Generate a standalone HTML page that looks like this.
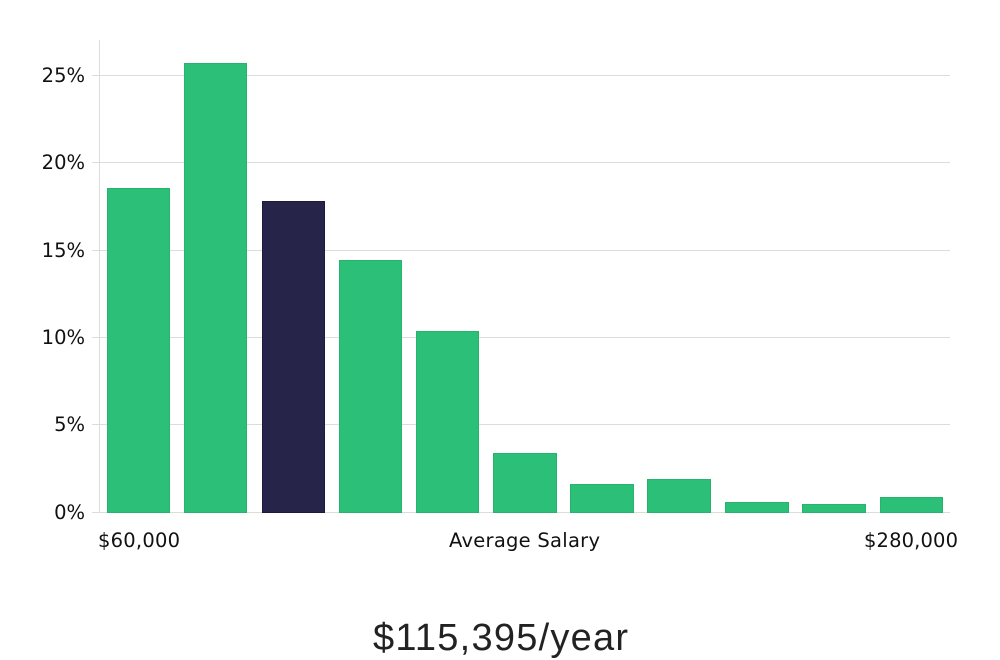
<!DOCTYPE html>
<html><head><meta charset="utf-8"><style>
html,body{margin:0;padding:0;background:#fff;width:1000px;height:660px;overflow:hidden}
</style></head><body>
<svg width="1000" height="660" xmlns="http://www.w3.org/2000/svg" font-family="DejaVu Sans, sans-serif">
<g stroke="#dcdcdc" stroke-width="1">
<line x1="92" y1="75.5" x2="950" y2="75.5"/>
<line x1="92" y1="162.5" x2="950" y2="162.5"/>
<line x1="92" y1="250.5" x2="950" y2="250.5"/>
<line x1="92" y1="337.5" x2="950" y2="337.5"/>
<line x1="92" y1="424.5" x2="950" y2="424.5"/>
<line x1="92" y1="512.5" x2="950" y2="512.5"/>
<line x1="99.5" y1="40" x2="99.5" y2="512"/>
</g>
<g font-size="19.5" fill="#111" text-anchor="end">
<text x="85" y="82">25%</text>
<text x="85" y="169">20%</text>
<text x="85" y="257">15%</text>
<text x="85" y="344">10%</text>
<text x="85" y="431">5%</text>
<text x="85" y="519">0%</text>
</g>
<g fill="#2bbf77" stroke="#25b36e" stroke-width="1">
<rect x="107.5" y="188.5" width="62" height="324"/>
<rect x="184.5" y="63.5" width="62" height="449"/>
<rect x="339.5" y="260.5" width="62" height="252"/>
<rect x="416.5" y="331.5" width="62" height="181"/>
<rect x="493.5" y="453.5" width="63" height="59"/>
<rect x="570.5" y="484.5" width="63" height="28"/>
<rect x="647.5" y="479.5" width="63" height="33"/>
<rect x="725.5" y="502.5" width="63" height="10"/>
<rect x="802.5" y="504.5" width="63" height="8"/>
<rect x="880.5" y="497.5" width="62" height="15"/>
</g>
<rect x="262.5" y="201.5" width="62" height="311" fill="#27244a" stroke="#1d1a3a"/>
<g font-size="19.5" fill="#111">
<text x="98" y="547" textLength="82">$60,000</text>
<text x="449" y="547" textLength="151">Average Salary</text>
<text x="864" y="547" textLength="94">$280,000</text>
</g>
<text x="373" y="650" textLength="255" font-family="Liberation Sans, sans-serif" font-size="38" fill="#222">$115,395/year</text>
</svg>
</body></html>
